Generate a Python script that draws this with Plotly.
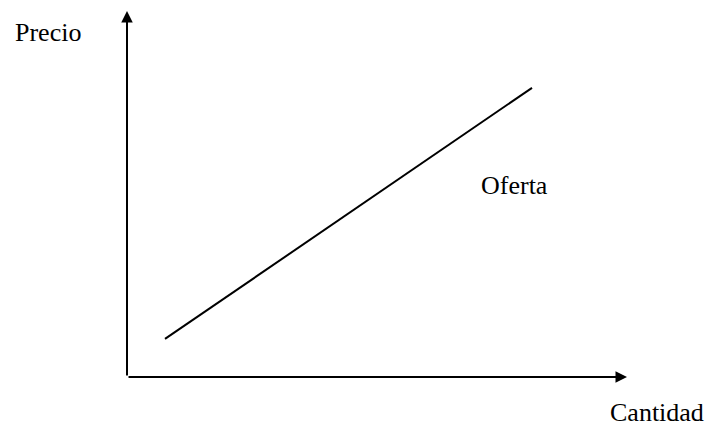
import plotly.graph_objects as go

# Supply curve (schematic units: axes run 0..10)
cantidad = [0.76, 8.1]
precio = [1.04, 7.9]

axis_max_x = 10
axis_max_y = 10

labels = {
    "y_axis": "Precio",
    "x_axis": "Cantidad",
    "curve": "Oferta",
}
label_pos = {
    "y_axis": (-1.59, 9.40),
    "x_axis": (10.60, -0.96),
    "curve": (7.74, 5.22),
}

FONT = dict(family="Liberation Serif, Times New Roman, serif", size=26, color="black")

fig = go.Figure()
fig.add_trace(go.Scatter(
    x=cantidad, y=precio, mode="lines",
    line=dict(color="black", width=2),
    hoverinfo="skip", showlegend=False,
))

# Axes drawn as arrows
for tip, tail in [((0, axis_max_y), (0, 0)), ((axis_max_x, 0), (0, 0))]:
    fig.add_annotation(
        x=tip[0], y=tip[1], ax=tail[0], ay=tail[1],
        xref="x", yref="y", axref="x", ayref="y",
        showarrow=True, arrowhead=2, arrowsize=1.15, arrowwidth=2,
        arrowcolor="black", text="", standoff=0, startstandoff=0,
    )

for key, text in labels.items():
    px_, py_ = label_pos[key]
    fig.add_annotation(
        x=px_ / axis_max_x, y=py_ / axis_max_y, xref="paper", yref="paper",
        text=text, showarrow=False,
        font=FONT, xanchor="center", yanchor="middle",
    )

fig.update_layout(
    width=707, height=426,
    margin=dict(l=127, r=80, t=11, b=49),
    paper_bgcolor="white", plot_bgcolor="white",
    xaxis=dict(range=[0, axis_max_x], visible=False, fixedrange=True),
    yaxis=dict(range=[0, axis_max_y], visible=False, fixedrange=True),
    showlegend=False,
)

fig.write_html(
    "out.html",
    config={"displayModeBar": False},
    post_script="document.body.style.margin='0';document.body.style.overflow='hidden';",
)
